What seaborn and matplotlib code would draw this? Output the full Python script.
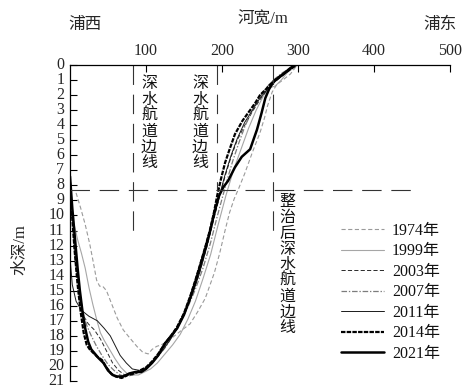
import matplotlib
matplotlib.use("Agg")
import matplotlib.pyplot as plt
import seaborn as sns
import pandas as pd

sns.set_theme(style="white")
plt.rcParams['font.family'] = ['Liberation Serif', 'Noto Sans CJK SC', 'DejaVu Sans']
plt.rcParams['lines.scale_dashes'] = False
plt.rcParams['axes.unicode_minus'] = False

# ---------------- data (river width in m, water depth in m) ----------------
years = ["1974年", "1999年", "2003年", "2007年", "2011年", "2014年", "2021年"]

x_1974 = [8, 14, 20, 26, 31, 35, 39, 43, 48, 55, 62, 70, 78, 88, 96, 103, 108, 114, 120, 127,
          135, 145, 158, 168, 178, 190, 197, 204, 210, 216, 222, 230, 240, 250, 256, 260, 266,
          272, 280, 290, 299]
d_1974 = [8.5, 9.5, 10.6, 11.9, 13.2, 14.3, 14.7, 14.7, 15.0, 15.9, 16.8, 17.6, 18.1, 18.7, 19.1,
          19.2, 18.9, 18.7, 18.6, 18.4, 18.1, 17.7, 17.2, 16.4, 15.5, 13.8, 12.5, 11.0, 9.8, 8.9,
          8.2, 7.2, 5.8, 4.5, 3.5, 2.7, 1.8, 1.3, 1.0, 0.6, 0.0]

x_1999 = [0, 5, 10, 15, 20, 25, 30, 35, 40, 45, 52, 59, 67, 75, 82, 90, 98, 106, 115, 125, 135,
          145, 155, 165, 175, 185, 195, 205, 215, 225, 235, 245, 255, 263, 270, 278, 286, 294, 300]
d_1999 = [9.0, 10.5, 11.6, 12.5, 13.5, 14.8, 15.9, 16.9, 17.8, 18.3, 18.9, 19.5, 20.1, 20.5, 20.6,
          20.6, 20.4, 20.2, 19.8, 19.2, 18.6, 17.9, 16.9, 15.7, 14.2, 12.6, 10.6, 8.7, 7.0, 5.6,
          4.2, 3.0, 2.0, 1.5, 1.4, 1.0, 0.5, 0.2, 0.0]

x_2003 = [0, 4, 8, 12, 17, 24, 32, 40, 48, 56, 64, 72, 82, 92, 100, 110, 120, 130, 140, 150, 160,
          170, 180, 188, 196, 204, 212, 220, 230, 240, 250, 260, 270, 280, 290, 298]
d_2003 = [8.3, 11.0, 13.5, 15.4, 16.6, 17.2, 17.6, 18.2, 19.0, 19.8, 20.3, 20.6, 20.6, 20.4, 20.1,
          19.6, 19.0, 18.3, 17.5, 16.5, 15.3, 13.9, 12.1, 10.5, 8.9, 7.4, 6.1, 5.0, 4.0, 3.1,
          2.3, 1.6, 1.1, 0.7, 0.3, 0.0]

x_2007 = [0, 4, 8, 12, 17, 22, 28, 35, 42, 50, 58, 66, 74, 82, 90, 98, 106, 115, 125, 135, 145,
          155, 165, 175, 185, 193, 200, 207, 214, 222, 230, 238, 246, 254, 262, 270, 280, 290, 298]
d_2007 = [8.0, 10.8, 13.2, 15.0, 16.4, 17.3, 18.0, 18.7, 19.3, 19.9, 20.3, 20.6, 20.7, 20.6, 20.4,
          20.2, 19.9, 19.4, 18.8, 18.0, 17.1, 16.1, 14.9, 13.5, 11.8, 10.2, 8.9, 7.6, 6.4, 5.2,
          4.1, 3.2, 2.4, 1.8, 1.3, 0.9, 0.5, 0.2, 0.0]

x_2011 = [0, 3, 8, 15, 25, 36, 45, 53, 60, 66, 74, 82, 92, 100, 110, 120, 130, 140, 150, 160, 170,
          180, 188, 196, 204, 212, 220, 230, 240, 250, 260, 270, 280, 290, 297]
d_2011 = [12.8, 14.6, 15.7, 16.3, 16.7, 17.0, 17.5, 18.0, 18.7, 19.3, 19.8, 20.2, 20.3, 20.1, 19.7,
          19.1, 18.4, 17.6, 16.6, 15.4, 13.9, 12.1, 10.4, 8.8, 7.3, 6.0, 4.9, 3.8, 3.0, 2.2, 1.6,
          1.1, 0.7, 0.3, 0.0]

x_2014 = [0, 3, 6, 10, 14, 18, 22, 26, 30, 36, 42, 48, 54, 60, 68, 76, 84, 92, 100, 108, 116, 125,
          133, 141, 150, 158, 165, 171, 178, 184, 189, 194, 199, 204, 210, 217, 227, 237, 244, 250,
          258, 267, 278, 289, 298]
d_2014 = [7.8, 10.2, 12.3, 14.6, 16.4, 17.8, 18.6, 18.9, 19.1, 19.4, 19.6, 20.1, 20.5, 20.7, 20.8,
          20.6, 20.5, 20.3, 20.1, 19.7, 19.2, 18.5, 18.0, 17.4, 16.5, 15.4, 14.3, 13.3, 12.1, 11.0,
          9.9, 8.6, 7.5, 6.5, 5.6, 4.6, 3.7, 3.0, 2.5, 2.0, 1.6, 1.1, 0.7, 0.3, 0.0]

x_2021 = [0, 3, 7, 10, 13, 17, 20, 24, 28, 33, 38, 44, 50, 56, 62, 70, 78, 86, 94, 100, 108, 116,
          125, 133, 141, 150, 158, 165, 171, 178, 184, 190, 196, 202, 208, 217, 226, 237, 246,
          252, 257, 262, 268, 275, 283, 290, 296]
d_2021 = [7.4, 9.5, 11.8, 13.5, 15.0, 16.6, 17.5, 18.4, 18.9, 19.2, 19.5, 19.8, 20.3, 20.6, 20.7,
          20.7, 20.5, 20.4, 20.4, 20.2, 19.8, 19.3, 18.5, 18.0, 17.5, 16.6, 15.5, 14.4, 13.4, 12.2,
          11.1, 9.8, 8.7, 8.1, 7.7, 6.8, 6.1, 5.6, 4.3, 3.2, 2.2, 1.6, 1.1, 0.8, 0.5, 0.2, 0.0]

series_x = [x_1974, x_1999, x_2003, x_2007, x_2011, x_2014, x_2021]
series_d = [d_1974, d_1999, d_2003, d_2007, d_2011, d_2014, d_2021]

x_ticks = [100, 200, 300, 400, 500]
y_ticks = list(range(0, 22))

# channel edge lines: (x, depth_top, depth_bottom)
edge_x = [83, 193, 267]
edge_bottom = [11.6, 8.3, 11.6]
hline_depth = 8.3
hline_xmax = 456

# ---------------- styles ----------------
styles = [
    dict(color="#9a9a9a", lw=0.8, dashes=(3.0, 1.8)),
    dict(color="#a6a6a6", lw=0.8, dashes=None),
    dict(color="#2a2a2a", lw=0.7, dashes=(3.0, 1.6)),
    dict(color="#7c7c7c", lw=0.9, dashes=(4.0, 1.3, 1.0, 1.3)),
    dict(color="#1a1a1a", lw=0.7, dashes=None),
    dict(color="#000000", lw=1.6, dashes=(3.2, 0.9)),
    dict(color="#000000", lw=1.8, dashes=None),
]

fig = plt.figure(figsize=(4.67, 3.90), dpi=100)
ax = fig.add_axes([70 / 467, 1 - 381 / 390, 380 / 467, (381 - 65) / 390])

for yr, xs, ds, st in zip(years, series_x, series_d, styles):
    df = pd.DataFrame({"x": xs, "d": ds})
    kw = dict(color=st["color"], linewidth=st["lw"])
    sns.lineplot(data=df, x="x", y="d", ax=ax, sort=False, estimator=None, label=yr, **kw)
    ln = ax.lines[-1]
    if st["dashes"] is not None:
        ln.set_dashes(st["dashes"])

# reference dashed lines
for ex, eb in zip(edge_x, edge_bottom):
    ax.plot([ex, ex], [0, eb], color="#333333", lw=0.8, dashes=(14, 7))
ax.plot([0, hline_xmax], [hline_depth, hline_depth], color="#333333", lw=0.8, dashes=(14, 7))

ax.set_xlim(0, 500)
ax.set_ylim(21, 0)
ax.set_xlabel("")
ax.set_ylabel("")
ax.xaxis.tick_top()
ax.set_xticks(x_ticks)
ax.set_yticks(y_ticks)
ax.tick_params(axis="x", direction="in", length=5, width=0.8, color="black",
               labelsize=11.5, pad=4, top=True, bottom=False)
ax.tick_params(axis="y", direction="in", length=5, width=0.8, color="black",
               labelsize=11.5, pad=4, left=True)
for lab in ax.get_yticklabels():
    lab.set_va("center")
for s in ["right", "bottom"]:
    ax.spines[s].set_visible(False)
for s in ["top", "left"]:
    ax.spines[s].set_color("black")
    ax.spines[s].set_linewidth(0.9)

# vertical texts
def vtext(x, ytop, s):
    ax.text(x, ytop, "\n".join(s), ha="center", va="top", fontsize=11.5,
            linespacing=0.98, color="#111111")

vtext(104, 0.75, "深水航道边线")
vtext(171, 0.75, "深水航道边线")
vtext(286, 8.6, "整治后深水航道边线")

# header texts
fig.text(85 / 467, 1 - 25 / 390, "浦西", ha="center", va="center", fontsize=12)
fig.text(263 / 467, 1 - 20 / 390, "河宽/m", ha="center", va="center", fontsize=12)
fig.text(440 / 467, 1 - 25 / 390, "浦东", ha="center", va="center", fontsize=12)
fig.text(20 / 467, 1 - 250 / 390, "水深/m", ha="center", va="center", fontsize=12, rotation=90)

leg = ax.legend(loc="upper left", bbox_to_anchor=(341 / 467, 1 - 223 / 390),
                bbox_transform=fig.transFigure, frameon=False, fontsize=11.5,
                handlelength=2.7, handletextpad=0.5, labelspacing=0.28, borderpad=0,
                borderaxespad=0)
for t in leg.get_texts():
    t.set_color("#111111")

fig.savefig("out.png", dpi=100)
